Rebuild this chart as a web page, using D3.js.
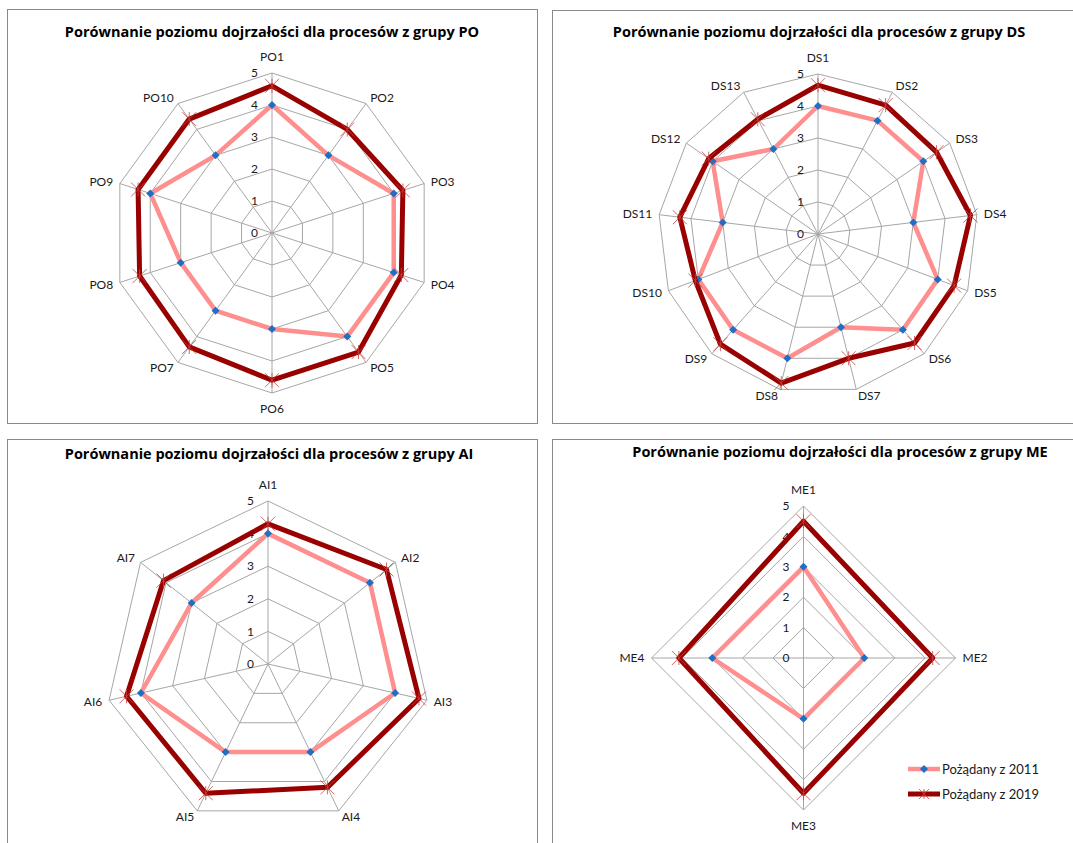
<!DOCTYPE html>
<html>
<head>
<meta charset="utf-8">
<script src="https://cdn.jsdelivr.net/npm/d3@7"></script>
<style>
  html, body { margin: 0; padding: 0; background: #ffffff; }
  svg { display: block; }
  text { font-family: Lato, "Liberation Sans", sans-serif; }
  text.title { font-family: "Open Sans", Lato, sans-serif; }
</style>
</head>
<body>
<svg id="chart" width="1073" height="843"></svg>
<script>
// Maturity levels per process group: desired level as of 2011 and 2019
const poCategories = ["PO1","PO2","PO3","PO4","PO5","PO6","PO7","PO8","PO9","PO10"];
const po2011 = [4, 3, 4, 4, 4, 3, 3, 3, 4, 3];
const po2019 = [4.6, 4.0, 4.3, 4.25, 4.6, 4.6, 4.4, 4.35, 4.4, 4.4];

const dsCategories = ["DS1","DS2","DS3","DS4","DS5","DS6","DS7","DS8","DS9","DS10","DS11","DS12","DS13"];
const ds2011 = [4, 4, 4, 3, 4, 4, 3, 4, 4, 4, 3, 4, 3];
const ds2019 = [4.65, 4.55, 4.5, 4.8, 4.55, 4.55, 4.0, 4.8, 4.6, 4.1, 4.35, 4.15, 4.05];

const aiCategories = ["AI1","AI2","AI3","AI4","AI5","AI6","AI7"];
const ai2011 = [4, 4, 4, 3, 3, 4, 3];
const ai2019 = [4.3, 4.65, 4.75, 4.2, 4.4, 4.45, 4.1];

const meCategories = ["ME1","ME2","ME3","ME4"];
const me2011 = [3, 2, 2, 3];
const me2019 = [4.5, 4.25, 4.45, 4.1];

const levelTicks = [0, 1, 2, 3, 4, 5];
const seriesNames = ["Pożądany z 2011", "Pożądany z 2019"];
const titlePrefix = "Porównanie poziomu dojrzałości dla procesów z grupy ";
const groupNames = ["PO", "DS", "AI", "ME"];

// Layout of the four chart boxes
const panels = [
  { group: groupNames[0], cats: poCategories, a: po2011, b: po2019,
    box: [7.5, 9.5, 530, 414], cx: 272, cy: 233, R: 160, tx: 272, ty: 32 },
  { group: groupNames[1], cats: dsCategories, a: ds2011, b: ds2019,
    box: [552.5, 10.5, 530, 413], cx: 818, cy: 234, R: 160, tx: 819, ty: 32 },
  { group: groupNames[2], cats: aiCategories, a: ai2011, b: ai2019,
    box: [7.5, 439.5, 530, 420], cx: 268, cy: 664, R: 163, tx: 269, ty: 454 },
  { group: groupNames[3], cats: meCategories, a: me2011, b: me2019,
    box: [552.5, 439.5, 530, 420], cx: 803.5, cy: 658, R: 152, tx: 840, ty: 452, legend: true }
];

const COL_GRID = "#a6a6a6";
const COL_FRAME = "#8a8a8a";
const COL_2011 = "#ff8e8e";
const COL_2019 = "#990000";
const COL_DIAMOND = "#1f70c4";
const COL_STAR = "#c8403c";
const COL_TEXT = "#1a1a1a";

const svg = d3.select("#chart");

function drawDiamond(g, x, y, s) {
  g.append("path")
    .attr("d", `M${x},${y - s}L${x + s},${y}L${x},${y + s}L${x - s},${y}Z`)
    .attr("fill", COL_DIAMOND);
}
function drawStar(g, x, y, s) {
  g.append("path")
    .attr("d", `M${x - s},${y - s}L${x + s},${y + s}M${x - s},${y + s}L${x + s},${y - s}M${x},${y - s}L${x},${y + s}`)
    .attr("stroke", COL_STAR).attr("stroke-width", 1).attr("fill", "none")
    .attr("opacity", 0.8);
}

panels.forEach(p => {
  const g = svg.append("g");
  const n = p.cats.length;

  g.append("rect")
    .attr("x", p.box[0]).attr("y", p.box[1])
    .attr("width", p.box[2]).attr("height", p.box[3])
    .attr("fill", "#fff").attr("stroke", COL_FRAME).attr("stroke-width", 1);

  g.append("text")
    .attr("class", "title")
    .attr("x", p.tx).attr("y", p.ty).attr("dy", "0.35em")
    .attr("text-anchor", "middle")
    .attr("font-size", 14.5).attr("font-weight", "bold").attr("fill", "#000")
    .text(titlePrefix + p.group);

  const angle = d3.scaleLinear().domain([0, n]).range([0, 2 * Math.PI]);
  const r = d3.scaleLinear().domain([0, 5]).range([0, p.R]);
  const pt = (i, v) => [p.cx + r(v) * Math.sin(angle(i)), p.cy - r(v) * Math.cos(angle(i))];

  const closed = d3.line().curve(d3.curveLinearClosed);

  // concentric polygon grid
  levelTicks.filter(t => t > 0).forEach(t => {
    g.append("path")
      .attr("d", closed(d3.range(n).map(i => pt(i, t))))
      .attr("fill", "none").attr("stroke", COL_GRID).attr("stroke-width", 1);
  });
  // spokes
  d3.range(n).forEach(i => {
    const [x, y] = pt(i, 5);
    g.append("line")
      .attr("x1", p.cx).attr("y1", p.cy).attr("x2", x).attr("y2", y)
      .attr("stroke", COL_GRID).attr("stroke-width", 1);
  });

  // value axis labels along the first spoke
  levelTicks.forEach(t => {
    g.append("text")
      .attr("x", p.cx - 14).attr("y", p.cy - r(t)).attr("dy", "0.35em")
      .attr("text-anchor", "end").attr("font-size", 12).attr("fill", COL_TEXT)
      .text(t);
  });

  // category labels outside the outer ring
  p.cats.forEach((c, i) => {
    const a = angle(i);
    const s = Math.sin(a), co = Math.cos(a);
    let x = p.cx + (p.R + 7) * s;
    let y = p.cy - (p.R + 7) * co;
    let anchor = "start";
    if (Math.abs(s) < 0.05) { anchor = "middle"; y -= co * 9; }
    else if (s < 0) anchor = "end";
    g.append("text")
      .attr("x", x).attr("y", y).attr("dy", "0.35em")
      .attr("text-anchor", anchor).attr("font-size", 12).attr("fill", COL_TEXT)
      .text(c);
  });

  // 2011 series
  g.append("path")
    .attr("d", closed(p.a.map((v, i) => pt(i, v))))
    .attr("fill", "none").attr("stroke", COL_2011).attr("stroke-width", 4.5)
    .attr("stroke-linejoin", "round");
  p.a.forEach((v, i) => { const [x, y] = pt(i, v); drawDiamond(g, x, y, 4); });

  // 2019 series
  g.append("path")
    .attr("d", closed(p.b.map((v, i) => pt(i, v))))
    .attr("fill", "none").attr("stroke", COL_2019).attr("stroke-width", 5)
    .attr("stroke-linejoin", "round");
  p.b.forEach((v, i) => { const [x, y] = pt(i, v); drawStar(g, x, y, 7); });

  if (p.legend) {
    const lx = 908, ly = [769, 794];
    [0, 1].forEach(k => {
      g.append("line")
        .attr("x1", lx).attr("x2", lx + 32).attr("y1", ly[k]).attr("y2", ly[k])
        .attr("stroke", k === 0 ? COL_2011 : COL_2019).attr("stroke-width", k === 0 ? 4.5 : 5);
      if (k === 0) drawDiamond(g, lx + 16, ly[k], 4);
      else drawStar(g, lx + 16, ly[k], 5);
      g.append("text")
        .attr("x", lx + 34).attr("y", ly[k]).attr("dy", "0.35em")
        .attr("font-size", 13).attr("fill", COL_TEXT)
        .text(seriesNames[k]);
    });
  }
});
</script>
</body>
</html>
